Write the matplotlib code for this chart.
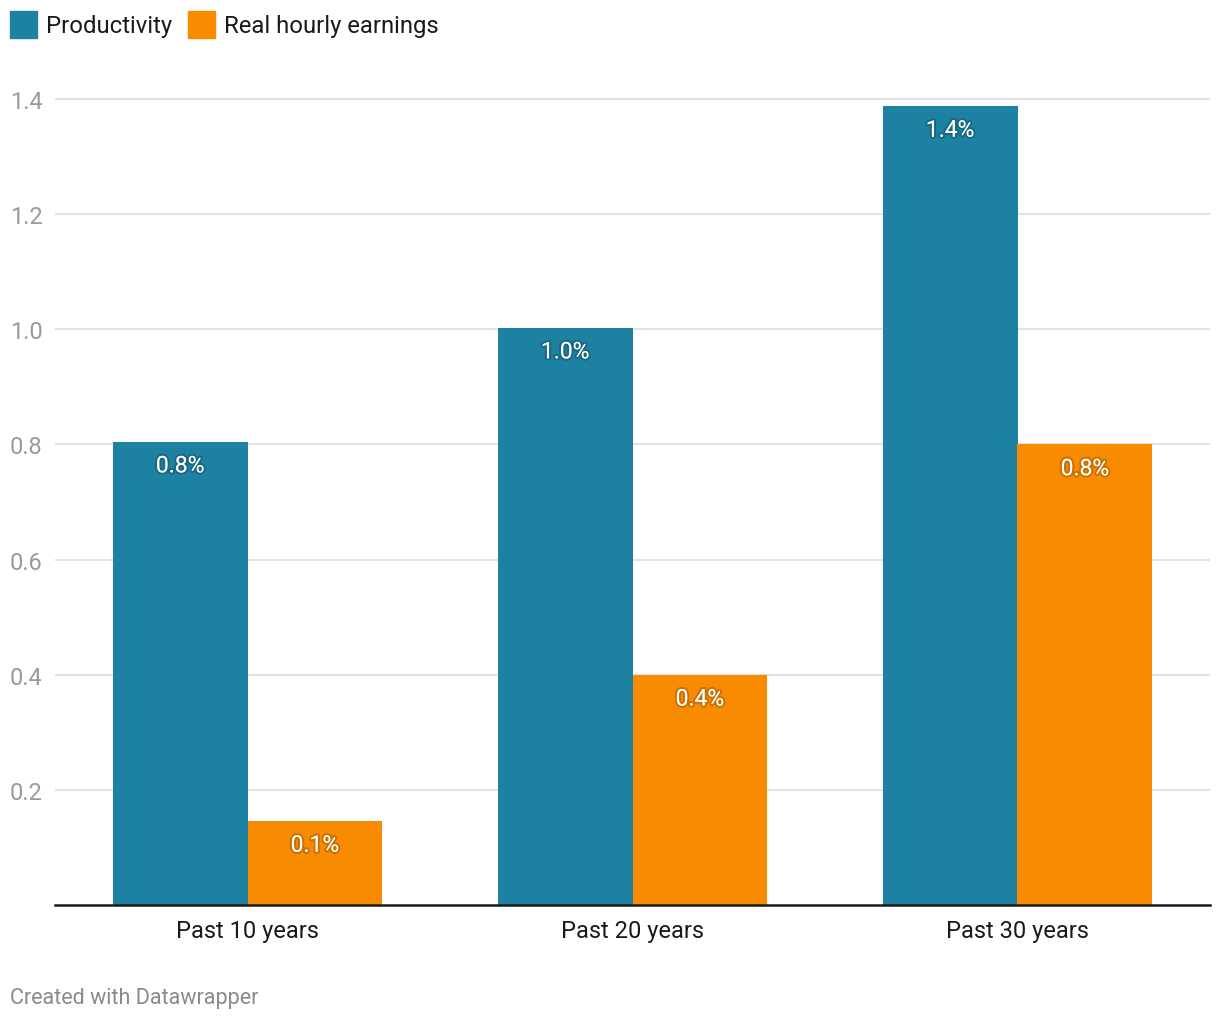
import matplotlib
import numpy as np
import matplotlib.pyplot as plt
import matplotlib.patheffects as pe
from matplotlib.patches import Rectangle

matplotlib.use('Agg')
plt.rcParams['font.family'] = ['Roboto', 'DejaVu Sans']

# Data
categories = ['Past 10 years', 'Past 20 years', 'Past 30 years']
productivity = [0.805, 1.003, 1.388]
earnings = [0.146, 0.400, 0.800]
prod_labels = ['0.8%', '1.0%', '1.4%']
earn_labels = ['0.1%', '0.4%', '0.8%']
yticks = [0.2, 0.4, 0.6, 0.8, 1.0, 1.2, 1.4]

blue = '#1d81a2'
orange = '#f98b00'

fig = plt.figure(figsize=(12.2, 10.2), dpi=100)
ax = fig.add_axes([55 / 1220, 1 - 906 / 1020, 1155 / 1220, (906 - 71.2) / 1020])

x = np.arange(len(categories))
w = 0.35
b1 = ax.bar(x - w / 2, productivity, w, color=blue, zorder=2)
b2 = ax.bar(x + w / 2, earnings, w, color=orange, zorder=2)

# value labels inside the bars, white with a soft dark halo
for bars, labels in [(b1, prod_labels), (b2, earn_labels)]:
    for bar, lab in zip(bars, labels):
        ax.annotate(lab, (bar.get_x() + bar.get_width() / 2, bar.get_height()),
                    xytext=(0, -17.5), textcoords='offset points', ha='center', va='center',
                    color='white', fontsize=16.5, zorder=3,
                    path_effects=[pe.withStroke(linewidth=3, foreground=(0, 0, 0, 0.18))])

ax.set_xlim(-0.5, 2.5)
ax.set_ylim(0, 1.45)
ax.set_yticks(yticks)
ax.set_yticklabels([f'{t:.1f}' for t in yticks], ha='left')
ax.tick_params(axis='y', length=0, pad=32.4, labelsize=17, labelcolor='#9a9a9a')
ax.set_xticks(x)
ax.set_xticklabels(categories)
ax.tick_params(axis='x', length=0, pad=10, labelsize=17, labelcolor='#1a1a1a')
ax.grid(axis='y', color='#e2e2e2', linewidth=1.4, zorder=0)
for s in ['top', 'right', 'left']:
    ax.spines[s].set_visible(False)
ax.spines['bottom'].set_color('#1a1a1a')
ax.spines['bottom'].set_linewidth(1.8)
ax.spines['bottom'].set_zorder(4)

# legend
for lab, col, x0 in [('Productivity', blue, 10), ('Real hourly earnings', orange, 188)]:
    fig.add_artist(Rectangle((x0 / 1220, 1 - 39 / 1020), 27 / 1220, 27 / 1020,
                             transform=fig.transFigure, color=col))
    fig.text((x0 + 36) / 1220, 1 - 27 / 1020, lab, fontsize=17.2, color='#1a1a1a', va='center')

fig.text(10 / 1220, 1 - 999 / 1020, 'Created with Datawrapper', fontsize=15.5, color='#8a8a8a', va='center')

fig.savefig('out.png', dpi=100, facecolor='white')
